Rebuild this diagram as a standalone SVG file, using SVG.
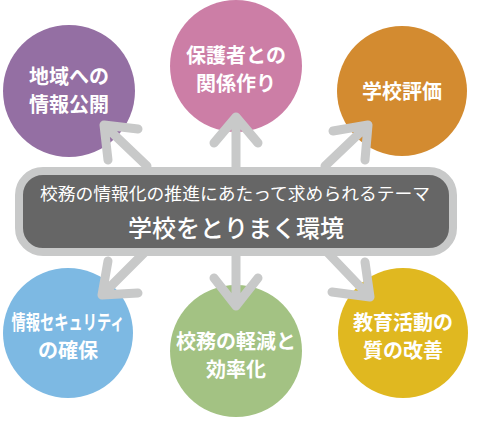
<svg xmlns="http://www.w3.org/2000/svg" width="480" height="430" viewBox="0 0 480 430">
<style>
.c{stroke:none}
.t{font-family:"Noto Sans CJK JP","Noto Sans CJK SC",sans-serif;font-weight:bold;font-size:20px;fill:#fff;text-anchor:middle}
.a{fill:none;stroke:#c8c9c9;stroke-width:9;stroke-linecap:round;stroke-linejoin:round}
.m{font-family:"Noto Sans CJK JP","Noto Sans CJK SC",sans-serif;fill:#fff;text-anchor:middle}
</style>
<rect width="480" height="430" fill="#fff"/>
<g id="n-disclosure">
<circle class="c" cx="69" cy="91" r="66" fill="#946fa3"/>
<text class="t" x="69" y="84">地域への</text>
<text class="t" x="69" y="112">情報公開</text>
</g>
<g id="n-guardians">
<circle class="c" cx="236" cy="66" r="66" fill="#cc7ea6"/>
<text class="t" x="236" y="63">保護者との</text>
<text class="t" x="236" y="91">関係作り</text>
</g>
<g id="n-evaluation">
<circle class="c" cx="402" cy="91" r="65" fill="#d38b30"/>
<text class="t" x="402" y="99">学校評価</text>
</g>
<g id="n-security">
<circle class="c" cx="68" cy="333" r="65" fill="#7db9e3"/>
<text class="t" x="68" y="330" textLength="113" lengthAdjust="spacingAndGlyphs">情報セキュリティ</text>
<text class="t" x="68" y="358">の確保</text>
</g>
<g id="n-efficiency">
<circle class="c" cx="236" cy="351" r="66" fill="#a3c283"/>
<text class="t" x="236" y="349">校務の軽減と</text>
<text class="t" x="236" y="377">効率化</text>
</g>
<g id="n-quality">
<circle class="c" cx="403" cy="333" r="65" fill="#e0b820"/>
<text class="t" x="403" y="330">教育活動の</text>
<text class="t" x="403" y="358">質の改善</text>
</g>
<g id="connectors">
<path class="a" d="M147,166 L104,125 M138,129 L104,125 L108,160"/>
<path class="a" d="M236,167 L236,117 M214,143 L236,117 L258,143"/>
<path class="a" d="M325,166 L368,125 M333,131 L368,125 L365,160"/>
<path class="a" d="M145,252 L102,295 M138,293 L102,295 L108,261"/>
<path class="a" d="M236,252 L236,306 M214,278 L236,306 L258,278"/>
<path class="a" d="M327,252 L370,297 M332,292 L370,297 L365,262"/>
</g>
<g id="n-center">
<rect x="19" y="171" width="434" height="81" rx="24" fill="#666" stroke="#c8c9c9" stroke-width="8"/>
<text class="m" x="235" y="200" font-size="16.5" textLength="390" lengthAdjust="spacingAndGlyphs">校務の情報化の推進にあたって求められるテーマ</text>
<text class="m" x="236" y="237" font-size="24" font-weight="500">学校をとりまく環境</text>
</g>
</svg>
